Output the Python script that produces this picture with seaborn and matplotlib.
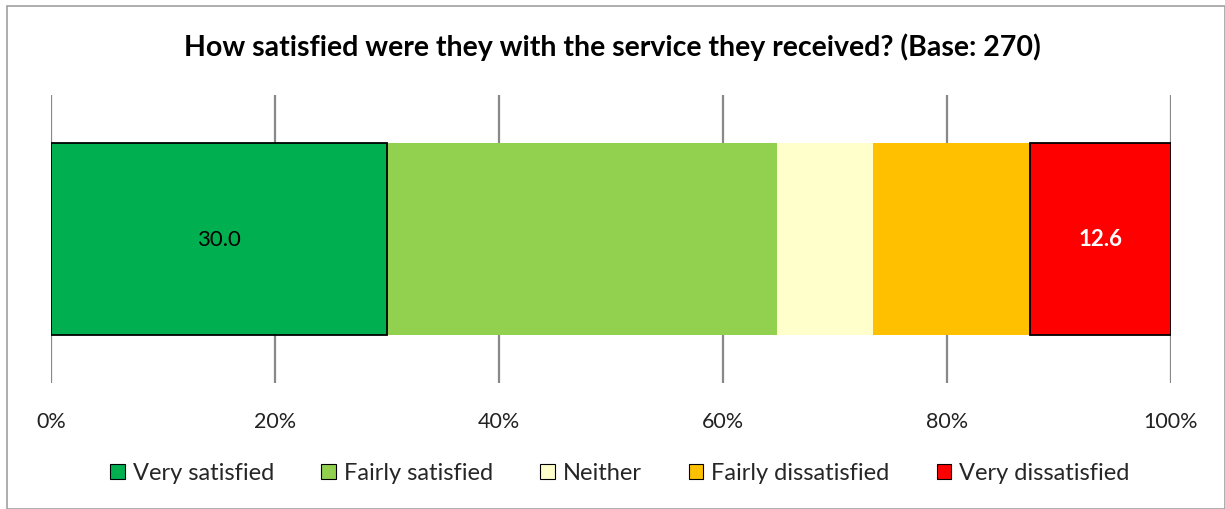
import matplotlib
matplotlib.use("Agg")
import matplotlib.pyplot as plt
import seaborn as sns
import numpy as np
import pandas as pd
from matplotlib.patches import Patch, Rectangle

sns.set_theme(style="white")
plt.rcParams['font.family'] = ['Lato', 'DejaVu Sans']

categories = ["Very satisfied", "Fairly satisfied", "Neither",
              "Fairly dissatisfied", "Very dissatisfied"]
values = [30.0, 34.8, 8.6, 14.0, 12.6]
colors = ["#00B050", "#92D050", "#FFFFCC", "#FFC000", "#FF0000"]
tick_labels = ["0%", "20%", "40%", "60%", "80%", "100%"]
title = "How satisfied were they with the service they received? (Base: 270)"

starts = np.concatenate([[0], np.cumsum(values)[:-1]])

fig = plt.figure(figsize=(12.25, 5.1), dpi=100)
ax = fig.add_axes([51 / 1225, 1 - 384 / 510, 1120 / 1225, 288 / 510])

# one seaborn bar per segment, each shifted to start where the previous ends
for i, (cat, val) in enumerate(zip(categories, values)):
    df = pd.DataFrame({"share": [val], "row": ["all"]})
    outlined = i in (0, len(values) - 1)
    n_before = len(ax.patches)
    sns.barplot(data=df, x="share", y="row", orient="h", color=colors[i],
                saturation=1, width=0.67,
                edgecolor="black" if outlined else "none",
                linewidth=1.3, ax=ax)
    bar = ax.patches[n_before]
    bar.set_x(starts[i])
    bar.set_zorder(4 if outlined else 3)

# segment value labels
ax.text(starts[0] + values[0] / 2, 0, f"{values[0]:.1f}", ha="center",
        va="center", fontsize=16, color="black", zorder=5)
ax.text(starts[4] + values[4] / 2, 0, f"{values[4]:.1f}", ha="center",
        va="center", fontsize=16, color="white", fontweight="bold", zorder=5)

ax.set_xlim(0, 100)
ax.set_ylim(0.5, -0.5)
ax.set_xticks(np.arange(0, 101, 20))
ax.set_xticklabels(tick_labels, fontsize=15.5, color="#222222")
ax.tick_params(axis="x", length=0, pad=20)
ax.set_yticks([])
ax.set_xlabel("")
ax.set_ylabel("")
for s in ax.spines.values():
    s.set_visible(False)
ax.xaxis.grid(True, color="#888888", linewidth=1.6, zorder=0)
ax.set_axisbelow(True)

fig.text(0.5, 1 - 47 / 510, title, ha="center", va="center",
         fontsize=20.5, fontweight="bold", color="black")

handles = [Patch(facecolor=c, edgecolor="black", linewidth=0.8) for c in colors]
fig.legend(handles, categories, loc="center", bbox_to_anchor=(0.506, 1 - 474 / 510),
           ncol=5, frameon=False, fontsize=17, handlelength=0.62,
           handleheight=0.62, handletextpad=0.33, columnspacing=2.0)

# chart frame
fig.patches.append(Rectangle((7 / 1225, 0), 1 - 7 / 1225, 1 - 7 / 510,
                             transform=fig.transFigure, fill=False,
                             edgecolor="#A0A0A0", linewidth=1.2))

fig.savefig("out.png", dpi=100)
